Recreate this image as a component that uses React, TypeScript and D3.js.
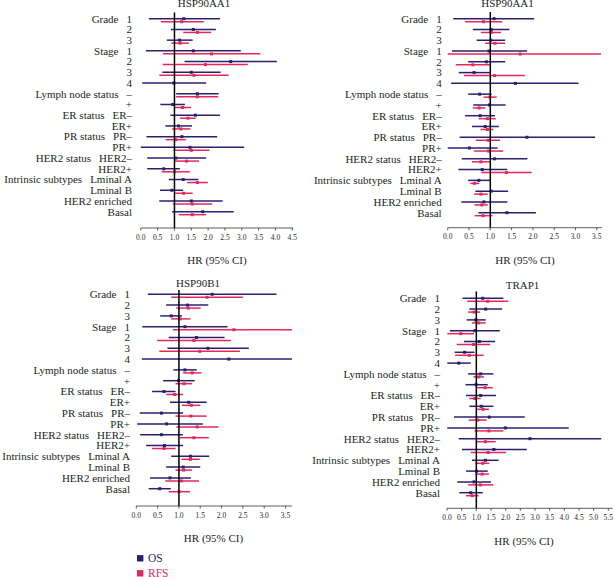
import React from "react";
import * as d3 from "d3";

// Row labels
const groupLabels = ["Grade", "", "", "Stage", "", "", "", "Lymph node status", "", "ER status", "", "PR status", "", "HER2 status", "", "Intrinsic subtypes", "", "", ""];
const subLabels = ["1", "2", "3", "1", "2", "3", "4", "–", "+", "ER–", "ER+", "PR–", "PR+", "HER2–", "HER2+", "Lminal A", "Lminal B", "HER2 enriched", "Basal"];

// [HR, low, high] per row; null = not shown
type CI = [number, number, number] | null;

const hsp90aa1A_OS: CI[] = [
  [1.28, 0.24, 2.35], [1.56, 0.89, 2.23], [1.15, 0.77, 1.54],
  [1.56, 0.15, 2.97], [2.67, 1.30, 4.04], [1.50, 0.64, 2.37], [0.98, 0.04, 1.94],
  [1.68, 1.05, 2.31], [0.95, 0.58, 1.31],
  [1.62, 0.88, 2.35], [1.12, 0.73, 1.52],
  [1.22, 0.17, 2.27], [1.46, 0.0, 3.07],
  [1.04, 0.19, 1.94], [0.68, 0.19, 1.16],
  [1.26, 0.83, 1.71], [0.92, 0.57, 1.26], [1.50, 0.55, 2.43], [1.84, 0.93, 2.76],
];
const hsp90aa1A_RFS: CI[] = [
  [1.21, 0.60, 1.87], [1.68, 1.26, 2.09], [1.17, 0.91, 1.43],
  [2.10, 0.66, 3.55], [1.92, 0.65, 3.18], [1.58, 0.55, 2.61], null,
  [1.68, 1.05, 2.30], [1.24, 1.00, 1.49],
  [1.40, 1.16, 1.63], [1.19, 0.93, 1.47],
  [1.04, 0.74, 1.34], [1.50, 0.97, 2.04],
  [1.36, 1.01, 1.73], [1.00, 0.62, 1.46],
  [1.68, 1.38, 1.99], [1.27, 1.02, 1.54], [1.53, 0.95, 2.12], [1.53, 1.13, 1.94],
];

const hsp90aa1B_OS: CI[] = [
  [1.09, 0.13, 2.03], [1.02, 0.59, 1.45], [1.01, 0.68, 1.35],
  [0.97, 0.10, 1.86], [0.91, 0.48, 1.35], [0.62, 0.26, 0.99], [1.59, 0.08, 3.07],
  [0.75, 0.48, 1.03], [0.98, 0.60, 1.36],
  [0.76, 0.41, 1.11], [0.88, 0.57, 1.20],
  [1.86, 0.28, 3.46], [0.51, 0.0, 1.17],
  [1.10, 0.33, 1.87], [0.81, 0.25, 1.40],
  [0.73, 0.48, 0.99], [1.02, 0.65, 1.42], [0.85, 0.32, 1.40], [1.39, 0.72, 2.07],
];
const hsp90aa1B_RFS: CI[] = [
  [0.84, 0.41, 1.28], [1.02, 0.78, 1.25], [1.11, 0.88, 1.35],
  [1.70, 0.0, 3.60], [0.59, 0.19, 0.99], [1.10, 0.38, 1.81], null,
  [0.99, 0.84, 1.15], [0.74, 0.59, 0.88],
  [0.93, 0.73, 1.13], [0.93, 0.77, 1.07],
  [0.95, 0.66, 1.23], [0.96, 0.62, 1.30],
  [0.78, 0.57, 0.99], [1.38, 0.79, 1.97],
  [0.63, 0.53, 0.74], [0.78, 0.62, 0.94], [0.80, 0.63, 0.94], [0.83, 0.63, 1.05],
];

const hsp90b1_OS: CI[] = [
  [1.78, 0.27, 3.29], [1.20, 0.70, 1.69], [0.82, 0.56, 1.07],
  [1.14, 0.14, 2.14], [1.41, 0.76, 2.07], [1.68, 0.73, 2.64], [2.17, 0.13, 3.68],
  [1.14, 0.87, 1.42], [0.99, 0.63, 1.37],
  [0.65, 0.37, 0.92], [1.23, 0.79, 1.65],
  [0.59, 0.08, 1.10], [0.71, 0.02, 1.56],
  [0.59, 0.09, 1.09], [0.66, 0.23, 1.10],
  [1.27, 0.82, 1.71], [1.10, 0.70, 1.50], [0.79, 0.32, 1.28], [0.55, 0.29, 0.81],
];
const hsp90b1_RFS: CI[] = [
  [1.66, 0.82, 2.50], [1.22, 0.94, 1.51], [1.03, 0.82, 1.27],
  [2.29, 0.86, 3.67], [1.35, 0.49, 2.22], [1.49, 0.54, 2.43], null,
  [1.31, 1.10, 1.53], [1.12, 0.92, 1.31],
  [0.90, 0.70, 1.10], [1.29, 1.07, 1.50],
  [1.28, 0.92, 1.65], [1.43, 0.94, 1.93],
  [1.35, 1.02, 1.70], [0.65, 0.37, 0.92],
  [1.27, 1.06, 1.49], [1.11, 0.92, 1.31], [1.06, 0.68, 1.47], [1.00, 0.76, 1.26],
];

const trap1_OS: CI[] = [
  [1.22, 0.53, 1.92], [1.32, 0.76, 1.88], [0.98, 0.67, 1.32],
  [0.95, 0.10, 1.80], [1.10, 0.58, 1.64], [0.60, 0.26, 0.94], [0.40, 0.01, 0.81],
  [1.15, 0.72, 1.58], [0.99, 0.63, 1.39],
  [1.15, 0.65, 1.67], [1.17, 0.76, 1.58],
  [1.44, 0.24, 2.65], [1.99, 0.01, 4.15],
  [2.83, 0.40, 5.26], [1.60, 0.51, 2.72],
  [1.31, 0.85, 1.76], [1.01, 0.65, 1.39], [0.92, 0.35, 1.50], [0.81, 0.42, 1.22],
];
const trap1_RFS: CI[] = [
  [1.39, 0.69, 2.09], [0.92, 0.72, 1.13], [1.08, 0.85, 1.32],
  [0.47, 0.01, 0.92], [0.90, 0.33, 1.47], [0.76, 0.28, 1.25], null,
  [1.08, 0.90, 1.26], [1.30, 1.03, 1.56],
  [0.95, 0.76, 1.15], [1.23, 1.03, 1.43],
  [1.05, 0.74, 1.35], [1.43, 0.94, 1.92],
  [1.31, 0.99, 1.66], [1.40, 0.81, 2.01],
  [1.22, 0.97, 1.44], [1.20, 0.97, 1.43], [1.14, 0.72, 1.58], [0.86, 0.65, 1.08],
];

const legendLabels = ["OS", "RFS"];
const OS_COLOR = "#2e1f6e";
const RFS_COLOR = "#e6275c";
const TEXT_COLOR = "#231f20";
const FONT = "'Liberation Serif', 'Times New Roman', serif";

type Panel = {
  title: string;
  titleX: number;
  titleY: number;
  os: CI[];
  rfs: CI[];
  x0: number;
  tickMax: number;
  xTickMax: number;
  axisEnd: number;
  rowTop: number;
  rowBottom: number;
  refTop: number;
  axisY: number;
  labelX: number;
  hrY: number;
  hrX: number;
};

const panels: Panel[] = [
  { title: "HSP90AA1", titleX: 204, titleY: 7, os: hsp90aa1A_OS, rfs: hsp90aa1A_RFS, x0: 140.8, tickMax: 4.5, xTickMax: 292.3, axisEnd: 4.53, rowTop: 18.7, rowBottom: 211.7, refTop: 12.5, axisY: 228, labelX: 132, hrY: 264, hrX: 217 },
  { title: "HSP90AA1", titleX: 507.5, titleY: 7, os: hsp90aa1B_OS, rfs: hsp90aa1B_RFS, x0: 447.7, tickMax: 3.5, xTickMax: 596.8, axisEnd: 3.62, rowTop: 18.7, rowBottom: 212.7, refTop: 12, axisY: 227.7, labelX: 441.7, hrY: 264, hrX: 525 },
  { title: "HSP90B1", titleX: 198, titleY: 286.5, os: hsp90b1_OS, rfs: hsp90b1_RFS, x0: 136.3, tickMax: 3.5, xTickMax: 285.5, axisEnd: 3.65, rowTop: 294.3, rowBottom: 488.7, refTop: 290, axisY: 506, labelX: 130, hrY: 541.5, hrX: 213.5 },
  { title: "TRAP1", titleX: 522.5, titleY: 288.5, os: trap1_OS, rfs: trap1_RFS, x0: 447, tickMax: 5.5, xTickMax: 608.3, axisEnd: 5.65, rowTop: 298.3, rowBottom: 492.7, refTop: 291.5, axisY: 508.3, labelX: 440, hrY: 544.5, hrX: 524 },
];

function ForestPanel({ p }: { p: Panel }) {
  const x = d3.scaleLinear().domain([0, p.tickMax]).range([p.x0, p.xTickMax]);
  const y = d3.scaleLinear().domain([0, subLabels.length - 1]).range([p.rowTop, p.rowBottom]);
  const ticks = d3.range(0, p.tickMax + 0.001, 0.5);
  const clampX = (v: number) => x(Math.max(0, Math.min(p.axisEnd, v)));
  const drawCI = (d: CI, i: number, off: number, color: string, key: string) => {
    if (!d) return null;
    const yy = y(i) + off;
    return (
      <g key={key}>
        <line x1={clampX(d[1])} x2={clampX(d[2])} y1={yy} y2={yy} stroke={color} strokeWidth={1.5} />
        <rect x={x(d[0]) - 1.5} y={yy - 1.5} width={3} height={3} fill={color} />
      </g>
    );
  };
  return (
    <g>
      <text x={p.titleX} y={p.titleY} textAnchor="middle" fontSize={11} fill={TEXT_COLOR} fontFamily={FONT}>{p.title}</text>
      {subLabels.map((s, i) => (
        <text key={"l" + i} x={p.labelX} y={y(i) + 3.8} textAnchor="end" fontSize={11} fill={TEXT_COLOR} fontFamily={FONT}>
          {groupLabels[i] ? <tspan>{groupLabels[i]}</tspan> : null}
          <tspan dx={groupLabels[i] ? 8 : 0}>{s}</tspan>
        </text>
      ))}
      {p.os.map((d, i) => drawCI(d, i, 0, OS_COLOR, "o" + i))}
      {p.rfs.map((d, i) => drawCI(d, i, 3, RFS_COLOR, "r" + i))}
      <line x1={x(1)} x2={x(1)} y1={p.refTop} y2={p.axisY} stroke="#000" strokeWidth={1.5} />
      <line x1={x(0)} x2={x(p.axisEnd)} y1={p.axisY} y2={p.axisY} stroke="#333" strokeWidth={0.8} />
      {ticks.map((t) => (
        <g key={"t" + t}>
          <line x1={x(t)} x2={x(t)} y1={p.axisY} y2={p.axisY + 2.5} stroke="#333" strokeWidth={0.8} />
          <text x={x(t)} y={p.axisY + 11.5} textAnchor="middle" fontSize={7.5} fill={TEXT_COLOR} fontFamily={FONT}>{t.toFixed(1)}</text>
        </g>
      ))}
      <text x={p.hrX} y={p.hrY} textAnchor="middle" fontSize={11} fill={TEXT_COLOR} fontFamily={FONT}>HR (95% CI)</text>
    </g>
  );
}

export default function App() {
  const legendColors = [OS_COLOR, RFS_COLOR];
  const legendY = d3.scaleLinear().domain([0, 1]).range([558.3, 573.3]);
  return (
    <svg width={614} height={577} style={{ position: "absolute", left: 0, top: 0, background: "#fff" }}>
      <rect width={614} height={577} fill="#fff" />
      {panels.map((p, i) => <ForestPanel key={i} p={p} />)}
      {legendLabels.map((l, i) => (
        <g key={l}>
          <rect x={137} y={legendY(i) - 3.2} width={6.4} height={6.4} fill={legendColors[i]} />
          <text x={148} y={legendY(i) + 4} fontSize={11.5} fill={legendColors[i]} fontFamily={FONT}>{l}</text>
        </g>
      ))}
    </svg>
  );
}
